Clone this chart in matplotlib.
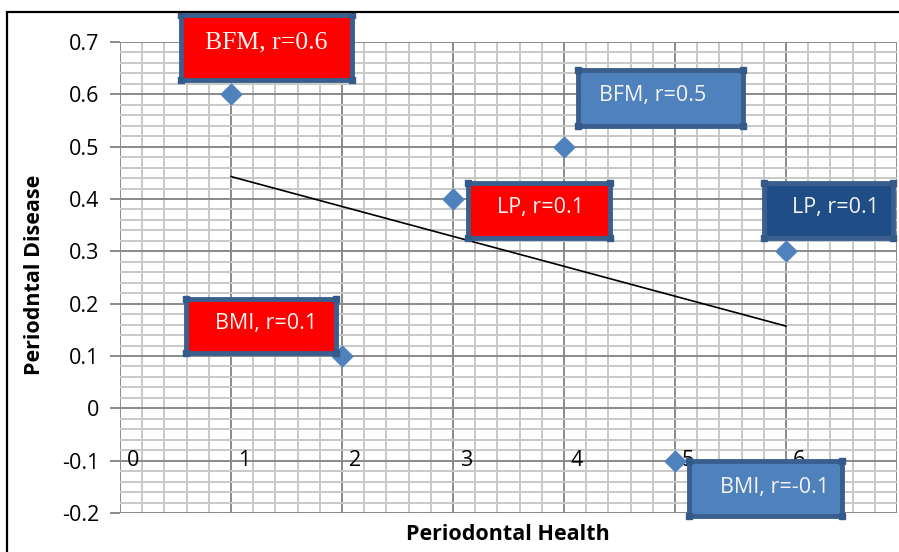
import numpy as np
import matplotlib
matplotlib.use('Agg')
from matplotlib import pyplot as plt
from matplotlib.patches import Rectangle
from matplotlib.ticker import MultipleLocator

# data
health = [1, 2, 3, 4, 5, 6]
disease = [0.6, 0.1, 0.4, 0.5, -0.1, 0.3]
x_ticks = [0, 1, 2, 3, 4, 5, 6, 7]
y_ticks = [-0.2, -0.1, 0, 0.1, 0.2, 0.3, 0.4, 0.5, 0.6, 0.7]
labels = ['BFM, r=0.6', 'BFM, r=0.5', 'LP, r=0.1', 'LP, r=0.1', 'BMI, r=0.1', 'BMI, r=-0.1']

# layout of the call-out boxes (x0, y0, x1, y1, text x, text y)
RED = '#ff0000'
BLUE = '#4f81bd'
DARK = '#1f4e87'
box_pos = [(0.55, 0.627, 2.09, 0.752, 1.315, 0.700),
           (4.13, 0.539, 5.61, 0.646, 4.80, 0.597),
           (3.135, 0.326, 4.41, 0.430, 3.79, 0.384),
           (5.80, 0.326, 6.96, 0.430, 6.45, 0.384),
           (0.595, 0.106, 1.95, 0.208, 1.315, 0.162),
           (5.13, -0.205, 6.50, -0.100, 5.90, -0.152)]
box_fill = [RED, BLUE, RED, DARK, RED, BLUE]
box_font = ['Liberation Serif', 'Open Sans', 'Open Sans', 'Open Sans', 'Open Sans', 'Open Sans']

fig = plt.figure(figsize=(8.99, 5.52), dpi=100)
ax = fig.add_axes([120/899, 39/552, 777/899, 471/552])

ax.set_xlim(0, 7)
ax.set_ylim(-0.2, 0.7)
ax.xaxis.set_major_locator(MultipleLocator(1))
ax.xaxis.set_minor_locator(MultipleLocator(0.2))
ax.yaxis.set_major_locator(MultipleLocator(0.1))
ax.yaxis.set_minor_locator(MultipleLocator(0.02))
ax.grid(which='minor', color='#c8c8c8', lw=1.4)
ax.grid(which='major', color='#8a8a8a', lw=1.4)
ax.set_axisbelow(True)
for s in ax.spines.values():
    s.set_visible(False)

ax.set_yticks(y_ticks)
ax.set_yticklabels(['%g' % v for v in y_ticks], fontsize=15.5, family='Open Sans')
ax.tick_params(axis='y', which='major', length=7, color='#8a8a8a', width=1.4, pad=8)
ax.tick_params(axis='y', which='minor', length=0)
ax.tick_params(axis='x', which='both', length=0, labelbottom=False)

# x labels sit on the -0.1 line, right of the gridline
for xt in x_ticks:
    ax.annotate(str(xt), (xt, -0.1), xytext=(13, 0), textcoords='offset pixels',
                ha='center', va='center', fontsize=15.5, family='Open Sans',
                annotation_clip=False)

# trend line
k, b = np.polyfit(health, disease, 1)
xs = np.array([min(health), max(health)])
ax.plot(xs, k*xs + b, color='black', lw=1.2, zorder=3)

ax.scatter(health, disease, marker='D', s=110, color='#4f81bd', zorder=4, clip_on=False)

for lab, (x0, y0, x1, y1, tx, ty), fc, fnt in zip(labels, box_pos, box_fill, box_font):
    ax.add_patch(Rectangle((x0, y0), x1-x0, y1-y0, facecolor=fc, edgecolor='#3a5f8f',
                           lw=3.5, zorder=5, clip_on=False))
    ax.plot([x0, x1, x0, x1], [y0, y0, y1, y1], 's', ms=5, color='#345a8a',
            zorder=6, clip_on=False)
    ax.text(tx, ty, lab, ha='center', va='center', color='#f4f4f4',
            fontsize=18.5 if fnt == 'Liberation Serif' else 15.5, family=fnt, zorder=7)

ax.set_xlabel('Periodontal Health', fontsize=15.5, fontweight='bold', family='Open Sans')
ax.set_ylabel('Periodntal Disease', fontsize=15.5, fontweight='bold', family='Open Sans')
ax.xaxis.set_label_coords((508-120)/777, -22/471)
ax.xaxis.label.set_va('center')
ax.yaxis.set_label_coords(-85/777, (513-275)/471)
ax.yaxis.label.set_va('center')

# outer frame of the pasted chart
fig.add_artist(Rectangle((7/899, -0.1), 1.2, (552-12)/552 + 0.1, transform=fig.transFigure,
                         fill=False, edgecolor='black', lw=1.6, clip_on=False))

fig.savefig('out.png', dpi=100)
